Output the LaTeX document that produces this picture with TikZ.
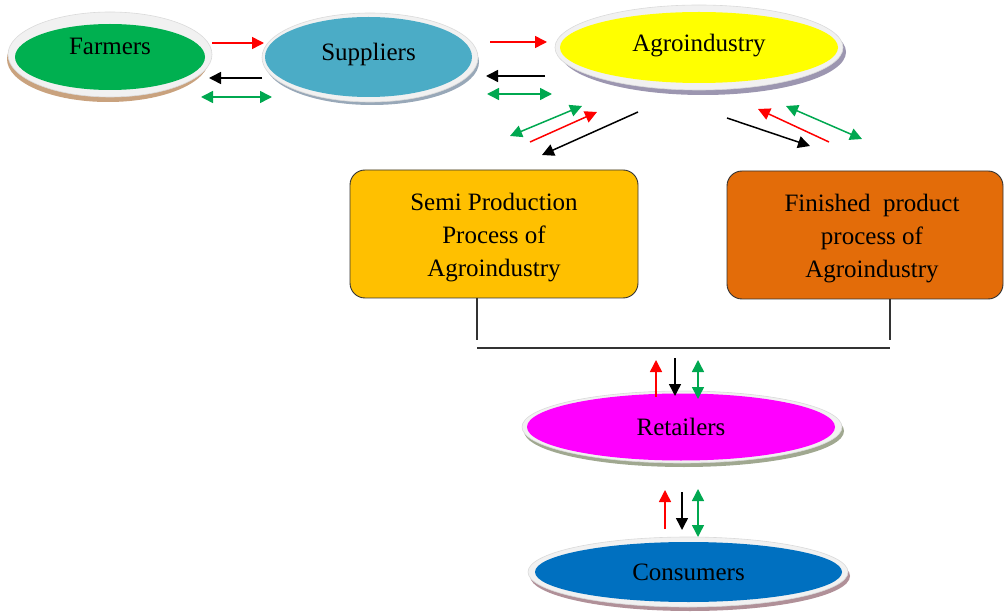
\documentclass[tikz,border=0pt]{standalone}
\usepackage{fontspec}
\setmainfont{Liberation Serif}
\usetikzlibrary{arrows.meta,shapes.geometric}
\definecolor{rim}{HTML}{F1F1F1}
\definecolor{rimedge}{HTML}{DADADA}
\definecolor{cfarm}{HTML}{00B050}
\definecolor{csupp}{HTML}{4BACC6}
\definecolor{cagro}{HTML}{FFFF00}
\definecolor{cret}{HTML}{FF00FF}
\definecolor{ccons}{HTML}{0070C0}
\definecolor{csemi}{HTML}{FFC000}
\definecolor{cfin}{HTML}{E36C09}
\definecolor{sfarm}{HTML}{C9A27E}
\definecolor{ssupp}{HTML}{98A8B8}
\definecolor{sagro}{HTML}{9C96B0}
\definecolor{sret}{HTML}{A0A890}
\definecolor{scons}{HTML}{B09098}
\definecolor{agreen}{HTML}{00A850}
\begin{document}
\begin{tikzpicture}[x=1pt,y=-1pt,
  ell/.style={ellipse, fill=#1, inner sep=0pt, font=\fontsize{25}{28}\selectfont},
  rimfill/.style={fill=rim, draw=rimedge, line width=0.6pt},
  box/.style={rectangle, rounded corners=15pt, draw=black!80, line width=0.9pt, fill=#1, align=center, font=\fontsize{25}{33}\selectfont},
  tip/.tip={Triangle[length=12pt,width=12pt]},
  rar/.style={draw=red, line width=1.5pt, -tip},
  kar/.style={draw=black, line width=1.5pt, -tip},
  gar/.style={draw=agreen, line width=1.5pt, tip-tip},
  conn/.style={draw=black!80, line width=1.3pt}
]
\useasboundingbox (0,0) rectangle (1004,612);
% shadows and rims
\fill[sfarm] (108,59) ellipse (101 and 43);
\draw[rimfill] (110,54.5) ellipse (102 and 42.5);
\fill[ssupp] (372,62) ellipse (107 and 43);
\draw[rimfill] (370,57.5) ellipse (108 and 44.5);
\fill[sagro] (703,52) ellipse (143 and 43);
\draw[rimfill] (699,47.5) ellipse (144 and 42.5);
\fill[sret] (684,431) ellipse (160 and 36);
\draw[rimfill] (682,427) ellipse (160 and 36);
\fill[scons] (690,576) ellipse (160 and 35);
\draw[rimfill] (688,572) ellipse (160 and 35);
% ellipse nodes
\node[ell=cfarm, minimum width=190pt, minimum height=66pt, text height=17pt, text depth=21.5pt] (farm) at (110,57) {Farmers};
\node[ell=csupp, minimum width=207pt, minimum height=80pt, text height=17pt, text depth=9.5pt] (supp) at (368.5,57) {Suppliers};
\node[ell=cagro, minimum width=278pt, minimum height=71pt, text height=17pt, text depth=9.5pt] (agro) at (699,47.5) {Agroindustry};
\node[ell=cret, minimum width=308pt, minimum height=67pt, text height=23pt, text depth=5.5pt] (ret) at (681,427) {Retailers};
\node[ell=ccons, minimum width=307pt, minimum height=60pt, text height=23pt, text depth=5.5pt] (cons) at (688.5,572) {Consumers};
% boxes
\node[box=csemi, minimum width=288pt, minimum height=128pt] (semi) at (494,234) {\rule{0pt}{25pt}Semi Production\\Process of\\Agroindustry};
\node[box=cfin, minimum width=276pt, minimum height=128pt] (fin) at (865,235) {\rule{0pt}{25pt}\hspace*{14pt}Finished\ \ product\\\hspace*{14pt}process of\\\hspace*{14pt}Agroindustry};
% connectors from boxes
\coordinate (vl) at (477,340);
\coordinate (vr) at (890,340);
\coordinate (hl) at (477,348);
\coordinate (hr) at (890,348);
\draw[conn] (semi.south -| vl) -- (vl);
\draw[conn] (fin.south -| vr) -- (vr);
\draw[conn] (hl) -- (hr);
% farmers-suppliers
\coordinate (fs1) at (212,43); \coordinate (fs2) at (264,43);
\coordinate (fs3) at (262,78); \coordinate (fs4) at (209,78);
\coordinate (fs5) at (201,97); \coordinate (fs6) at (272,97);
\draw[rar] (fs1) -- (fs2);
\draw[kar] (fs3) -- (fs4);
\draw[gar] (fs5) -- (fs6);
% suppliers-agro
\coordinate (sa1) at (490,42); \coordinate (sa2) at (547,42);
\coordinate (sa3) at (545,76); \coordinate (sa4) at (486,76);
\coordinate (sa5) at (487,94); \coordinate (sa6) at (552,94);
\draw[rar] (sa1) -- (sa2);
\draw[kar] (sa3) -- (sa4);
\draw[gar] (sa5) -- (sa6);
% agro-semi
\coordinate (as1) at (638,112); \coordinate (as2) at (542,155);
\coordinate (as3) at (530,142); \coordinate (as4) at (597,112);
\coordinate (as5) at (510,136); \coordinate (as6) at (582,106);
\draw[kar] (as1) -- (as2);
\draw[rar] (as3) -- (as4);
\draw[gar] (as5) -- (as6);
% agro-finished
\coordinate (af1) at (727,118); \coordinate (af2) at (810,146);
\coordinate (af3) at (829,142); \coordinate (af4) at (758,109);
\coordinate (af5) at (786,106); \coordinate (af6) at (862,139);
\draw[kar] (af1) -- (af2);
\draw[rar] (af3) -- (af4);
\draw[gar] (af5) -- (af6);
% retailers
\coordinate (r1) at (656,397); \coordinate (r2) at (656,360);
\coordinate (r3) at (675,358); \coordinate (r4) at (675,396);
\coordinate (r5) at (698,360); \coordinate (r6) at (698,399);
\draw[rar] (r1) -- (r2);
\draw[kar] (r3) -- (r4);
\draw[gar] (r5) -- (r6);
% consumers
\coordinate (c1) at (665,529); \coordinate (c2) at (665,490);
\coordinate (c3) at (682,492); \coordinate (c4) at (682,530);
\coordinate (c5) at (698,489); \coordinate (c6) at (698,537);
\draw[rar] (c1) -- (c2);
\draw[kar] (c3) -- (c4);
\draw[gar] (c5) -- (c6);
\end{tikzpicture}
\end{document}
